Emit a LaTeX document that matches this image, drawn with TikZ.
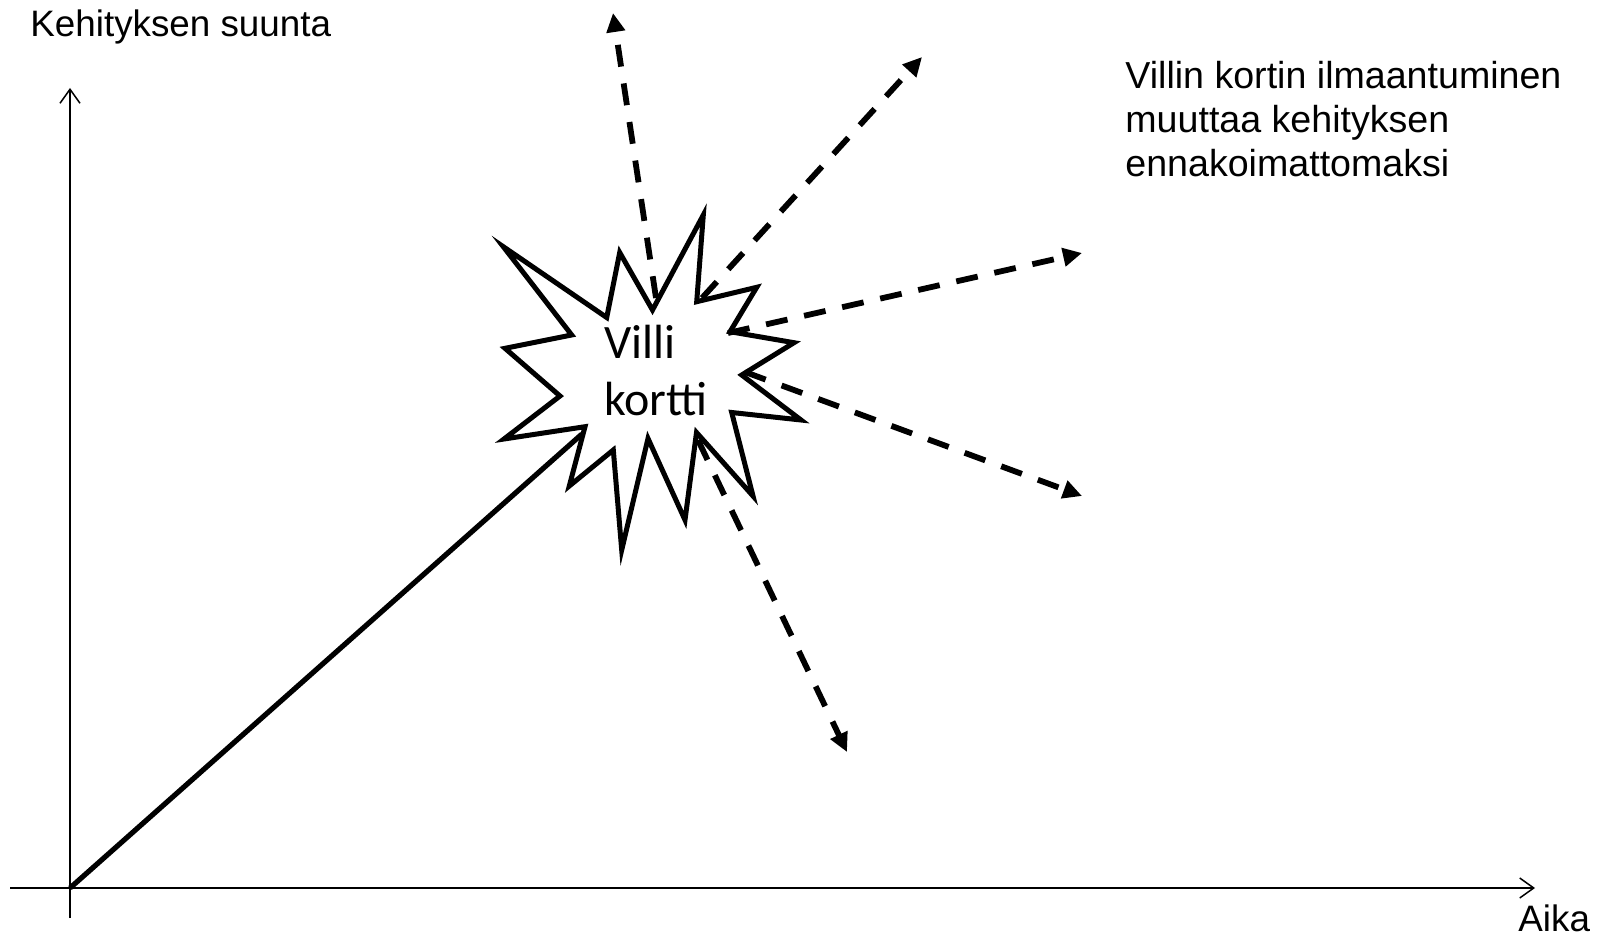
\documentclass[tikz,border=0pt]{standalone}
\usepackage{fontspec}
\setmainfont{Liberation Sans}
\newfontfamily\cardfont{Carlito}
\usetikzlibrary{arrows.meta}
\begin{document}
\begin{tikzpicture}[x=0.5pt,y=-0.5pt,
  axis/.style={line width=0.75pt,-{Straight Barb[length=7pt,width=10pt,line width=0.75pt]}},
  trend/.style={line width=2.6pt},
  burst/.style={line width=2.5pt,line join=miter,fill=white,draw=black},
  scen/.style={line width=2.9pt,dash pattern=on 11pt off 8.5pt,-{Triangle[length=9.5pt,width=9pt]}},
  lbl/.style={inner sep=0pt,font=\fontsize{18.4}{22}\selectfont},
]
\useasboundingbox (0,0) rectangle (1600,936);
% axes
\coordinate (O) at (70,888);
\coordinate (Ytop) at (70,88);
\coordinate (Ybot) at (70,918);
\coordinate (Xl) at (10,888);
\coordinate (Xr) at (1535,888);
\draw[axis] (Ybot) -- (Ytop);
\draw[axis] (Xl) -- (Xr);
% trend line
\coordinate (hit) at (582,434);
\draw[trend] (O) -- (hit);
% starburst
\draw[burst] (703.3,215) -- (696.7,301.7) -- (756.7,287.3) -- (730,331.7) -- (794,342.7)
  -- (741.7,375) -- (801,420) -- (731.7,412.5) -- (753,496) -- (696.5,432.5)
  -- (685,520) -- (648,438.5) -- (621.7,550) -- (613.3,450) -- (569.3,486)
  -- (585,426.7) -- (504,439) -- (560,396) -- (505,348.3) -- (571.7,335)
  -- (503.3,246.7) -- (606.7,317.5) -- (619.7,252.5) -- (652.5,310) -- cycle;
\node[anchor=base west,align=left,inner sep=0pt,font=\cardfont\fontsize{24}{28.5}\selectfont] (card) at (604,415) {Villi\\kortti};
% scenario arrows
\coordinate (s1) at (656,298); \coordinate (t1) at (613,13);
\coordinate (s2) at (702,298); \coordinate (t2) at (922,57);
\coordinate (s3) at (728,333); \coordinate (t3) at (1082,253);
\coordinate (s4) at (745,372); \coordinate (t4) at (1082,496);
\coordinate (s5) at (698,440); \coordinate (t5) at (847,752);
\draw[scen] (s1) -- (t1);
\draw[scen] (s2) -- (t2);
\draw[scen] (s3) -- (t3);
\draw[scen] (s4) -- (t4);
\draw[scen] (s5) -- (t5);
% labels
\node[lbl,anchor=base west] (ylab) at (30,36.7) {Kehityksen suunta};
\node[lbl,anchor=base west] (xlab) at (1518,931) {Aika};
\node[lbl,anchor=base west,align=left,font=\fontsize{18.8}{22}\selectfont] (note) at (1125,177) {Villin kortin ilmaantuminen\\muuttaa kehityksen\\ennakoimattomaksi};
\end{tikzpicture}
\end{document}
